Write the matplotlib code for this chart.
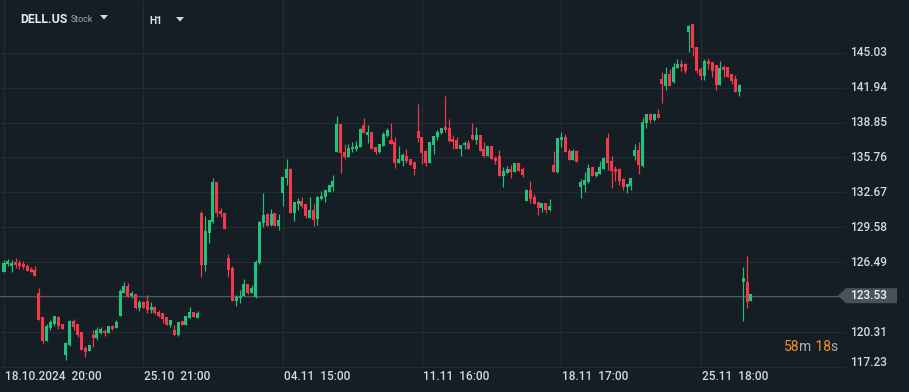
import matplotlib
matplotlib.use("Agg")
import matplotlib.pyplot as plt
from matplotlib.patches import Polygon
from matplotlib.transforms import Affine2D, blended_transform_factory

# ---------------- data ----------------
opens = [125.66, 126.31, 126.19, 126.51, 126.45, 126.33, 126.16, 125.92, 125.80, 123.80,
         121.62, 119.55, 120.70, 121.02, 121.67, 121.02, 118.28, 119.17, 121.29, 121.02,
         120.29, 118.87, 118.64, 120.05, 119.76, 120.20, 120.44, 120.26, 120.85, 120.64,
         121.73, 123.74, 124.39, 123.50, 123.68, 122.41, 123.00, 123.06, 122.26, 122.56,
         122.12, 121.97, 121.67, 120.94, 120.50, 120.05, 121.29, 120.94, 121.58, 122.06,
         121.58, 130.87, 126.24, 129.10, 130.01, 133.58, 131.02, 130.81, 126.89, 126.00,
         123.08, 123.29, 123.50, 124.56, 123.79, 123.44, 126.44, 129.99, 130.75, 129.78,
         130.81, 129.72, 132.64, 133.97, 134.73, 130.87, 131.64, 131.90, 131.61, 130.43,
         131.10, 130.31, 132.11, 132.29, 132.70, 133.17, 136.27, 138.72, 136.27, 135.77,
         136.48, 136.51, 136.72, 138.63, 137.75, 138.01, 136.69, 136.27, 136.80, 137.66,
         137.30, 137.13, 135.30, 135.45, 135.89, 135.60, 135.36, 138.10, 137.57, 136.33,
         135.24, 136.86, 137.54, 137.95, 138.43, 138.40, 137.36, 137.30, 136.54, 136.83,
         137.01, 137.75, 137.30, 137.75, 136.48, 135.92, 136.77, 135.71, 135.89, 134.15,
         134.36, 134.74, 134.50, 135.24, 134.74, 131.94, 132.88, 132.29, 131.82, 131.32,
         131.70, 131.11, 135.09, 134.50, 137.31, 137.54, 136.33, 135.54, 136.33, 133.17,
         133.32, 133.55, 134.88, 134.15, 134.30, 134.73, 137.45, 135.44, 134.70, 134.73,
         133.82, 133.17, 133.26, 135.88, 136.42, 135.03, 138.78, 139.57, 139.07, 139.57,
         142.67, 142.08, 143.14, 142.40, 143.70, 144.03, 144.03, 146.83, 147.57, 145.50,
         143.55, 142.99, 144.29, 144.18, 143.94, 142.17, 143.73, 143.73, 143.14, 142.67,
         141.58, 124.74, 124.74, 123.06]
highs = [126.69, 126.78, 126.69, 126.84, 126.69, 126.57, 126.33, 126.10, 126.16, 124.18,
         121.62, 121.02, 121.38, 121.73, 121.73, 121.02, 119.46, 121.38, 121.44, 121.02,
         120.29, 119.08, 119.17, 120.50, 120.73, 120.79, 120.55, 120.85, 120.94, 121.38,
         124.09, 124.71, 124.62, 123.98, 123.68, 123.15, 123.09, 123.59, 123.00, 122.62,
         122.26, 122.03, 121.67, 121.38, 120.94, 121.20, 121.29, 121.73, 122.50, 122.12,
         122.20, 131.02, 130.57, 130.22, 133.94, 133.58, 131.25, 130.81, 127.21, 126.15,
         123.58, 124.03, 125.00, 124.56, 124.47, 126.68, 130.13, 132.64, 130.87, 131.19,
         130.81, 130.75, 134.00, 135.59, 134.79, 131.78, 132.14, 132.29, 131.61, 132.29,
         131.64, 132.35, 132.79, 132.88, 133.32, 134.20, 139.42, 138.72, 136.95, 136.95,
         137.10, 137.22, 138.34, 139.25, 138.63, 138.01, 136.69, 136.92, 137.98, 138.34,
         138.81, 137.57, 136.77, 136.13, 136.48, 135.60, 135.36, 140.49, 137.57, 136.39,
         137.13, 137.66, 138.19, 138.40, 141.20, 139.16, 137.75, 137.57, 136.89, 137.19,
         137.30, 138.84, 138.49, 137.75, 137.16, 136.80, 136.77, 135.89, 136.42, 134.94,
         135.00, 135.09, 135.30, 135.24, 134.89, 132.94, 133.68, 132.53, 131.82, 131.70,
         131.70, 132.08, 136.36, 137.45, 137.98, 137.84, 136.51, 136.48, 136.42, 133.85,
         134.44, 135.18, 134.88, 134.44, 135.45, 135.83, 137.89, 135.89, 135.00, 134.79,
         133.91, 133.41, 133.91, 136.95, 137.15, 139.22, 139.60, 139.66, 139.57, 140.04,
         143.35, 143.79, 143.58, 144.09, 144.47, 144.38, 144.15, 147.48, 147.57, 145.50,
         143.79, 144.47, 144.59, 144.18, 143.94, 144.29, 143.94, 143.73, 143.14, 143.05,
         142.26, 126.07, 127.04, 123.68]
lows = [125.66, 126.16, 125.66, 125.95, 125.86, 125.86, 125.75, 125.66, 125.30, 121.38,
        119.37, 119.55, 120.50, 120.85, 120.58, 120.58, 117.84, 119.08, 120.50, 119.90,
        118.72, 118.13, 118.64, 119.02, 119.61, 120.14, 119.99, 120.20, 120.50, 120.64,
        121.73, 123.74, 123.44, 123.30, 122.32, 122.20, 122.41, 122.03, 122.03, 121.91,
        121.67, 121.08, 120.94, 120.79, 120.05, 119.96, 120.94, 120.94, 121.58, 121.62,
        121.58, 125.21, 125.71, 128.16, 129.93, 130.52, 130.46, 129.42, 125.21, 123.08,
        122.64, 122.90, 123.50, 123.67, 123.79, 123.29, 126.33, 129.63, 129.72, 129.69,
        129.72, 129.34, 131.46, 133.32, 130.87, 130.16, 131.10, 131.25, 130.43, 130.43,
        129.69, 129.78, 131.99, 131.84, 132.70, 132.82, 136.27, 134.35, 135.59, 135.77,
        136.27, 136.33, 136.72, 137.90, 137.01, 136.51, 136.04, 136.18, 136.80, 137.60,
        136.98, 134.86, 135.30, 135.00, 135.24, 135.10, 134.21, 137.16, 135.18, 135.00,
        135.24, 136.04, 137.30, 137.83, 138.04, 137.13, 136.54, 136.54, 135.92, 136.48,
        136.48, 137.30, 136.92, 136.36, 135.77, 135.92, 135.60, 135.18, 134.15, 133.18,
        134.36, 133.97, 134.50, 134.59, 134.06, 131.94, 131.70, 131.64, 130.67, 130.96,
        130.82, 131.05, 134.50, 134.41, 136.66, 136.21, 135.54, 135.54, 135.39, 132.20,
        132.73, 133.47, 134.15, 134.06, 134.30, 134.73, 134.65, 133.08, 133.67, 133.32,
        132.88, 132.58, 132.88, 135.53, 134.30, 134.94, 138.40, 138.84, 138.98, 139.28,
        140.60, 141.73, 142.08, 142.32, 143.70, 143.44, 143.26, 145.12, 144.76, 143.26,
        142.61, 142.61, 143.55, 142.90, 141.73, 142.17, 142.90, 142.85, 142.26, 141.58,
        141.20, 121.29, 122.44, 123.06]
closes = [126.45, 126.60, 126.45, 126.25, 126.19, 126.04, 125.75, 125.66, 125.30, 121.38,
          119.52, 120.85, 121.20, 121.73, 120.85, 120.58, 119.37, 121.29, 120.73, 120.05,
          118.72, 118.58, 119.17, 119.76, 120.50, 120.55, 120.20, 120.85, 120.55, 121.20,
          123.98, 124.39, 123.44, 123.74, 122.41, 123.00, 122.47, 122.26, 122.56, 122.03,
          121.73, 121.47, 120.94, 121.38, 120.05, 121.20, 120.94, 121.73, 122.12, 121.62,
          122.03, 126.24, 129.25, 130.22, 133.58, 130.87, 130.75, 129.42, 125.80, 123.08,
          123.44, 123.50, 124.56, 123.79, 124.20, 126.50, 130.04, 130.66, 129.72, 130.75,
          129.72, 130.22, 134.00, 134.73, 130.87, 131.78, 131.93, 131.46, 130.60, 131.10,
          130.22, 132.23, 132.35, 132.88, 133.32, 133.67, 138.72, 136.18, 135.77, 136.56,
          136.72, 136.77, 138.28, 137.90, 138.01, 136.51, 136.27, 136.92, 137.87, 138.19,
          136.98, 135.30, 135.62, 135.98, 135.45, 135.10, 134.71, 137.51, 136.18, 135.30,
          137.13, 137.66, 138.04, 138.40, 138.19, 137.22, 137.13, 136.54, 136.89, 137.07,
          136.48, 137.40, 137.75, 136.36, 135.92, 136.80, 135.60, 135.48, 134.15, 134.56,
          134.74, 134.44, 135.24, 134.59, 134.21, 132.88, 132.08, 131.64, 131.32, 131.70,
          131.11, 131.46, 134.50, 137.45, 137.60, 136.21, 135.54, 136.33, 135.39, 133.55,
          133.76, 134.79, 134.15, 134.44, 134.88, 135.74, 135.30, 134.59, 134.44, 133.67,
          133.17, 133.41, 133.91, 136.42, 135.09, 138.92, 139.60, 139.07, 139.57, 139.28,
          142.26, 143.14, 142.08, 143.79, 144.03, 143.79, 143.44, 147.39, 145.41, 143.44,
          142.99, 144.29, 144.03, 143.41, 142.17, 143.64, 143.50, 142.85, 142.52, 141.58,
          142.17, 125.09, 122.97, 123.68]

price_ticks = [145.03, 141.94, 138.85, 135.76, 132.67, 129.58, 126.49, 123.40, 120.31, 117.22]
price_labels = ["145.03", "141.94", "138.85", "135.76", "132.67", "129.58", "126.49", "", "120.31", "117.23"]
date_tick_idx = [0, 36, 72, 108, 144, 180]
date_labels = ["18.10.2024  20:00", "25.10  21:00", "04.11  15:00",
               "11.11  16:00", "18.11  17:00", "25.11  18:00"]
symbol = "DELL.US"
asset_type = "Stock"
timeframe = "H1"
last_price = 123.53
countdown_parts = ["58", "m", " 18", "s"]

# ---------------- style ----------------
W, H = 909, 392
BG = "#161e25"
GRID = "#222c34"
TXT = "#d6d9dc"
GREEN = "#22c17d"
RED = "#f23a4c"
LINE = "#4d5963"
BOX = "#46535d"
ORANGE = "#f0902a"
FONT = ["Roboto", "DejaVu Sans"]

plt.rcParams["font.family"] = FONT

fig = plt.figure(figsize=(W / 100, H / 100), dpi=100, facecolor=BG)
# pixel transform: (x px from left, y px from top) -> figure
px = Affine2D().scale(1 / W, -1 / H).translate(0, 1) + fig.transFigure

ax_bottom_px = 368
ax_right_px = 846
ax = fig.add_axes([0, 1 - ax_bottom_px / H, ax_right_px / W, ax_bottom_px / H])
ax.set_facecolor(BG)
for s in ax.spines.values():
    s.set_visible(False)
ax.set_xticks([])
ax.set_yticks([])

# scales: candle pitch 3.87 px, first candle at x=4 px; 11.3 px per dollar
pitch = 3.87
x0 = 4.0
ppd = 11.3
y_ref_px, y_ref_p = 52.7, 145.03
ax.set_xlim(-x0 / pitch, (ax_right_px - x0) / pitch)
ax.set_ylim(y_ref_p - (ax_bottom_px - y_ref_px) / ppd, y_ref_p + y_ref_px / ppd)

# grid
xl = ax.get_xlim()
yl = ax.get_ylim()
ax.hlines(price_ticks, xl[0], xl[1], color=GRID, lw=0.9, zorder=0)
ax.vlines(date_tick_idx, yl[0], yl[1], color=GRID, lw=0.9, zorder=0)

# last price line
ax.axhline(last_price, color=LINE, lw=0.85, zorder=1)

# candles
idx = list(range(len(opens)))
min_h = 1.0 / ppd
for i in idx:
    o, h, l, c = opens[i], highs[i], lows[i], closes[i]
    col = GREEN if c >= o else RED
    ax.vlines(i, l, h, color=col, lw=0.85, zorder=2)
    bot = min(o, c)
    ht = max(abs(c - o), min_h)
    ax.bar(i, ht, bottom=bot, width=0.78, color=col, linewidth=0, zorder=3)

# right price labels
ytrans = blended_transform_factory(fig.transFigure, ax.transData)
bottom_limit = yl[0] + 5.5 / ppd
for t, lab in zip(price_ticks, price_labels):
    if not lab:
        continue
    yy = max(t, yl[0] + 0.45) if t < bottom_limit + 0.3 else t
    fig.text(850 / W, yy, lab, transform=ytrans, color=TXT, fontsize=8.6,
             fontweight="medium", ha="left", va="center")

# last price box
yp = y_ref_px + (y_ref_p - last_price) * ppd
hh = 7.5
box = Polygon([(838, yp), (846, yp - hh), (897, yp - hh), (897, yp + hh), (846, yp + hh)],
              closed=True, transform=px, facecolor=BOX, edgecolor="none")
fig.add_artist(box)
fig.text(850 / W, 1 - yp / H, f"{last_price:.2f}", color="#f2f4f5", fontsize=8.6,
         fontweight="medium", ha="left", va="center")

# date labels
xtrans = blended_transform_factory(ax.transData, fig.transFigure)
for i, lab in zip(date_tick_idx, date_labels):
    fig.text(i + 0.3, 1 - 376 / H, lab, transform=xtrans, color=TXT, fontsize=8.6,
             fontweight="medium", ha="left", va="center")

# header
fig.text(20 / W, 1 - 19.5 / H, symbol, color="#e8eaec", fontsize=8.8, fontweight="bold",
         ha="left", va="center")
fig.text(71 / W, 1 - 19.5 / H, asset_type, color="#a3abb2", fontsize=6.4,
         ha="left", va="center")
fig.add_artist(Polygon([(100, 15), (108, 15), (104, 19.5)], closed=True, transform=px,
                       facecolor="#d6d9dc", edgecolor="none"))
fig.text(149 / W, 1 - 20.5 / H, timeframe, color="#e0e3e6", fontsize=7.4, fontweight="bold",
         ha="left", va="center")
fig.add_artist(Polygon([(176, 17), (184, 17), (180, 21.5)], closed=True, transform=px,
                       facecolor="#d6d9dc", edgecolor="none"))

# countdown
fig.canvas.draw()
renderer = fig.canvas.get_renderer()
cx = 784.0
for k, part in enumerate(countdown_parts):
    col = ORANGE if k % 2 == 0 else "#a9b0b7"
    t = fig.text(cx / W, 1 - 347 / H, part, color=col, fontsize=10, ha="left", va="center")
    bb = t.get_window_extent(renderer=renderer)
    cx += bb.width

fig.savefig("out.png", dpi=100, facecolor=BG)
